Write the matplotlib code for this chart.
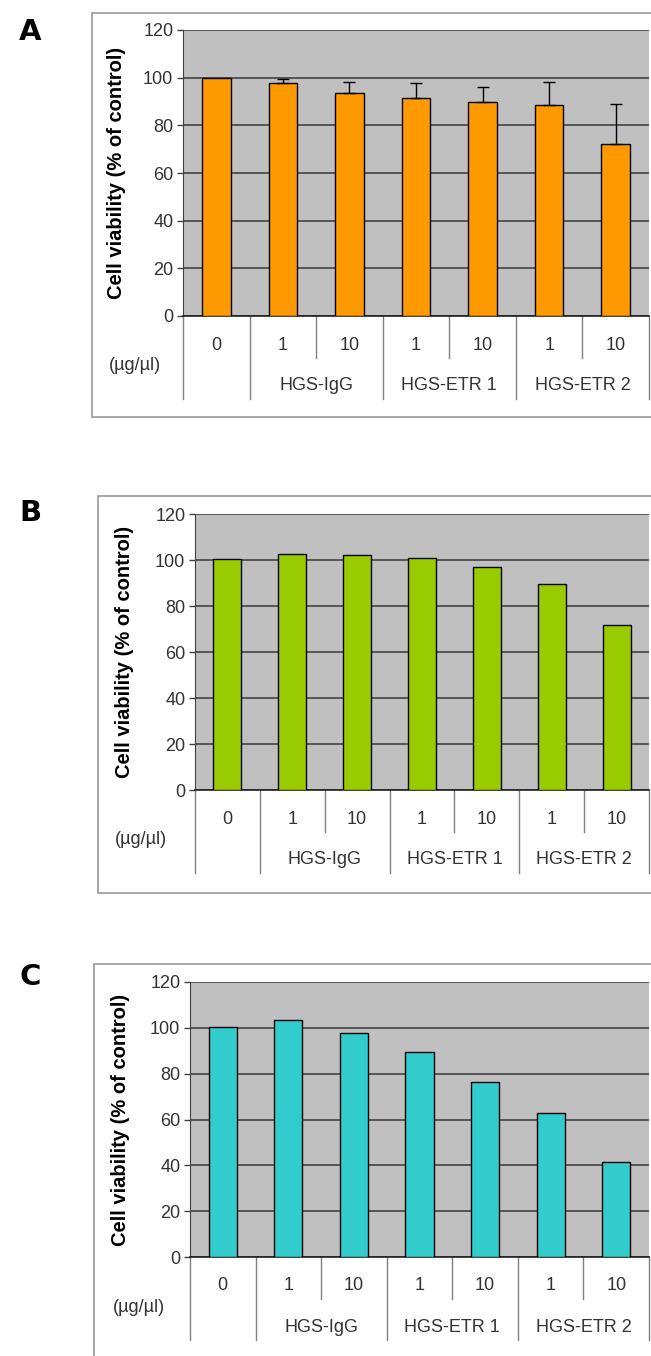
import numpy as np
import matplotlib.pyplot as plt
from matplotlib.patches import Rectangle
from matplotlib.transforms import blended_transform_factory

# data
doses = ["0", "1", "10", "1", "10", "1", "10"]
groups = ["HGS-IgG", "HGS-ETR 1", "HGS-ETR 2"]
ticks = [0, 20, 40, 60, 80, 100, 120]

viab_a = [100, 97.6, 93.4, 91.5, 89.8, 88.5, 72.2]
err_a = [0, 1.9, 4.8, 6.1, 6.4, 9.6, 16.9]
viab_b = [100.3, 102.7, 102.0, 100.8, 96.8, 89.6, 71.8]
viab_c = [100.2, 103.5, 97.6, 89.6, 76.5, 62.7, 41.5]

W, H = 651, 1356
fig = plt.figure(figsize=(W / 100, H / 100), dpi=100)
plt.rcParams['font.family'] = ['Liberation Sans', 'DejaVu Sans']

# pixel layout of the three panels
panels = [
    dict(letter="A", vals=viab_a, err=err_a, color="#FF9900",
         box=(92, 13, 417), plot=(183, 30, 316), lab=(30, 32), ylx=116, ux=135),
    dict(letter="B", vals=viab_b, err=None, color="#99CC00",
         box=(98, 496, 893), plot=(195, 514, 790), lab=(30, 513), ylx=124, ux=141),
    dict(letter="C", vals=viab_c, err=None, color="#33CCCC",
         box=(94, 964, 1380), plot=(190, 982, 1257), lab=(30, 977), ylx=120, ux=139),
]
right = 649
fs = 13


def fy(y):
    return 1 - y / H


def fx(x):
    return x / W


for p in panels:
    bl, bt, bb = p["box"]
    fig.patches.append(Rectangle((fx(bl), fy(bb)), fx(W + 20 - bl), (bb - bt) / H,
                                 transform=fig.transFigure, facecolor="white",
                                 edgecolor="#a0a0a0", lw=1.3, zorder=-5))
    pl, pt, pz = p["plot"]
    ax = fig.add_axes([fx(pl), fy(pz), fx(right - pl), (pz - pt) / H])
    ax.set_facecolor("#C0C0C0")
    x = np.arange(len(doses))
    ax.bar(x, p["vals"], width=0.43, color=p["color"], edgecolor="black", lw=1, zorder=3)
    if p["err"] is not None:
        e = np.array(p["err"])
        m = e > 0
        ax.errorbar(x[m], np.array(p["vals"])[m], yerr=[np.zeros(m.sum()), e[m]],
                    fmt="none", ecolor="black", elinewidth=1, capsize=4, capthick=1, zorder=4)
    ax.set_xlim(-0.5, 6.5)
    ax.set_ylim(0, 120)
    ax.set_yticks(ticks)
    ax.set_xticks([])
    ax.tick_params(axis="y", length=4, width=1, color="#404040", pad=3,
                   labelsize=fs, labelcolor="#333333")
    ax.yaxis.grid(True, color="#383838", lw=1.1)
    ax.set_axisbelow(True)
    for s in ["top", "right"]:
        ax.spines[s].set_visible(False)
    ax.spines["left"].set_color("#404040")
    ax.spines["bottom"].set_color("#202020")
    ax.spines["bottom"].set_linewidth(1.2)

    # category table below the axis
    tr = blended_transform_factory(ax.transData, fig.transFigure)
    for b in [-0.5, 0.5, 2.5, 4.5, 6.5]:
        ax.plot([b, b], [fy(pz), fy(pz + 83)], transform=tr, color="#808080",
                lw=1, clip_on=False)
    for b in [1.5, 3.5, 5.5]:
        ax.plot([b, b], [fy(pz), fy(pz + 42)], transform=tr, color="#808080",
                lw=1, clip_on=False)
    for i, d in enumerate(doses):
        ax.text(i, fy(pz + 29), d, transform=tr, ha="center", va="center",
                fontsize=fs, color="#333333")
    for j, g in enumerate(groups):
        ax.text(1.5 + 2 * j, fy(pz + 70), g, transform=tr, ha="center", va="center",
                fontsize=fs, color="#333333")
    fig.text(fx(p["ux"]), fy(pz + 50), "(µg/µl)", ha="center", va="center",
             fontsize=fs, color="#333333")
    fig.text(fx(p["ylx"]), fy((pt + pz) / 2), "Cell viability (% of control)",
             rotation=90, ha="center", va="center", fontsize=14.5, fontweight="bold")
    fig.text(fx(p["lab"][0]), fy(p["lab"][1]), p["letter"], ha="center", va="center",
             fontsize=21, fontweight="bold",
             family=["Liberation Sans Narrow", "DejaVu Sans"])

fig.savefig("out.png", dpi=100)
